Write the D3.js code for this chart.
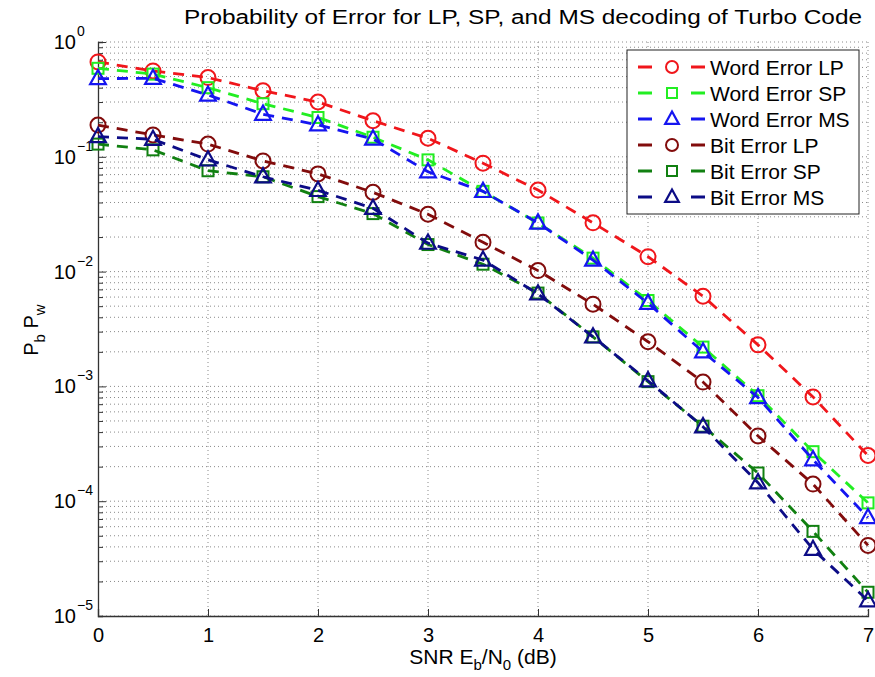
<!DOCTYPE html>
<html><head><meta charset="utf-8">
<script src="https://cdn.jsdelivr.net/npm/d3@7"></script>
<style>body{margin:0;background:#fff}svg{display:block}text{font-family:"Liberation Sans",Arial,Helvetica,sans-serif;fill:#000}</style>
</head><body><svg id="c" width="875" height="677"></svg>
<script>
const snr = [0,0.5,1,1.5,2,2.5,3,3.5,4,4.5,5,5.5,6,6.5,7];
const wordLP = [0.67,0.56,0.49,0.376,0.30,0.206,0.145,0.088,0.0513,0.0266,0.0135,0.0061,0.0023,0.00081,0.00025];
const wordSP = [0.59,0.525,0.40,0.29,0.22,0.148,0.094,0.050,0.0265,0.0131,0.0056,0.0022,0.00083,0.00027,0.0000967];
const wordMS = [0.48,0.483,0.345,0.235,0.19,0.143,0.074,0.050,0.0265,0.0126,0.0053,0.0020,0.00080,0.00023,0.000072];
const bitLP = [0.189,0.155,0.129,0.092,0.071,0.049,0.0316,0.018,0.0102,0.0052,0.00245,0.00109,0.00037,0.000141,0.0000412];
const bitSP = [0.129,0.115,0.0756,0.067,0.045,0.032,0.0172,0.0116,0.0065,0.0027,0.0011,0.00045,0.000176,0.0000546,0.0000161];
const bitMS = [0.15,0.142,0.094,0.067,0.051,0.0356,0.0177,0.0126,0.0064,0.0027,0.00112,0.000446,0.000145,0.0000381,0.0000136];
const seriesNames = ["Word Error LP","Word Error SP","Word Error MS","Bit Error LP","Bit Error SP","Bit Error MS"];
const xTicks = [0,1,2,3,4,5,6,7];
const yExponents = [0,-1,-2,-3,-4,-5];

const series = [
  {name:seriesNames[0], v:wordLP, color:"#f0161b", m:"circle"},
  {name:seriesNames[1], v:wordSP, color:"#22ee22", m:"square"},
  {name:seriesNames[2], v:wordMS, color:"#1515f0", m:"triangle"},
  {name:seriesNames[3], v:bitLP, color:"#820c0c", m:"circle"},
  {name:seriesNames[4], v:bitSP, color:"#118011", m:"square"},
  {name:seriesNames[5], v:bitMS, color:"#0c0c86", m:"triangle"}
];

const L=98, R=868, T=42, B=616;
const svg = d3.select("#c");
const x = d3.scaleLinear().domain([0,7]).range([L,R]);
const y = d3.scaleLog().domain([1e-5,1]).range([B,T]);

// grid
const g = svg.append("g");
const minor = [];
for (let e=-5; e<0; e++) for (let k=1; k<10; k++) minor.push(k*Math.pow(10,e));
minor.push(1);
g.selectAll("line.h").data(minor).enter().append("line")
  .attr("x1",L).attr("x2",R).attr("y1",d=>y(d)).attr("y2",d=>y(d))
  .attr("stroke","#8a8a8a").attr("stroke-width",1).attr("stroke-dasharray","1,3");
g.selectAll("line.v").data(xTicks.slice(1)).enter().append("line")
  .attr("y1",T).attr("y2",B).attr("x1",d=>x(d)).attr("x2",d=>x(d))
  .attr("stroke","#8a8a8a").attr("stroke-width",1).attr("stroke-dasharray","1,3");

// axes
const ax = svg.append("g").attr("transform",`translate(0,${B})`)
  .call(d3.axisBottom(x).tickValues(xTicks).tickSize(-7).tickPadding(12).tickFormat(d3.format("d")));
ax.select(".domain").attr("stroke","#333").attr("stroke-width",1.3);
ax.selectAll(".tick line").attr("stroke","#333");
ax.selectAll("text").style("font-size","20px").attr("dy","0.71em");

const ay = svg.append("g").attr("transform",`translate(${L},0)`)
  .call(d3.axisLeft(y).tickValues(minor).tickSize(-5).tickFormat(""));
ay.select(".domain").attr("stroke","#333").attr("stroke-width",1.3);
ay.selectAll(".tick line").attr("stroke","#333").attr("x2",d=>{const l=Math.log10(d);return Math.abs(l-Math.round(l))<1e-9?8:5;});

// y labels with superscripts
const yl = svg.append("g");
yExponents.forEach(e=>{
  yl.append("text").attr("x",76).attr("y",y(Math.pow(10,e))+7).attr("text-anchor","end").style("font-size","20px").text("10");
  yl.append("text").attr("x",77).attr("y",y(Math.pow(10,e))-6).style("font-size","14px").text(e===0?"0":"\u2212"+(-e));
});

// lines
const line = d3.line().x((d,i)=>x(snr[i])).y(d=>y(d));
const plot = svg.append("g");
function marker(sel, type, color, size){
  if(type==="circle") sel.append("circle").attr("r",size).attr("fill","none").attr("stroke",color).attr("stroke-width",2);
  else if(type==="square") sel.append("rect").attr("x",-size).attr("y",-size).attr("width",2*size).attr("height",2*size).attr("fill","none").attr("stroke",color).attr("stroke-width",2);
  else sel.append("path").attr("d",`M0,${-size*1.15}L${size*1.05},${size*0.75}L${-size*1.05},${size*0.75}Z`).attr("fill","none").attr("stroke",color).attr("stroke-width",2.2);
}
series.forEach(s=>{
  plot.append("path").attr("d",line(s.v)).attr("fill","none").attr("stroke",s.color).attr("stroke-width",2.8).attr("stroke-dasharray","11,8");
  s.v.forEach((v,i)=>{
    const m = plot.append("g").attr("transform",`translate(${x(snr[i])},${y(v)})`);
    marker(m, s.m, s.color, s.m==="circle"?7.5:(s.m==="square"?5.5:7.5));
  });
});

// legend
const lg = svg.append("g");
lg.append("rect").attr("x",627).attr("y",50).attr("width",232).attr("height",164).attr("fill","#fff").attr("stroke","#222").attr("stroke-width",1);
series.forEach((s,i)=>{
  const yy = 67 + i*26;
  lg.append("line").attr("x1",638).attr("x2",705).attr("y1",yy).attr("y2",yy).attr("stroke",s.color).attr("stroke-width",2.8).attr("stroke-dasharray","14,39");
  const m = lg.append("g").attr("transform",`translate(672,${yy})`);
  marker(m, s.m, s.color, s.m==="circle"?6:(s.m==="square"?5:6.5));
  lg.append("text").attr("x",710).attr("y",yy+7.5).style("font-size","21px").text(s.name);
});

// title
svg.append("text").attr("x",184).attr("y",24).attr("textLength",678).attr("lengthAdjust","spacingAndGlyphs").style("font-size","20px").text("Probability of Error for LP, SP, and MS decoding of Turbo Code");

// x label
const xl = svg.append("text").attr("x",483).attr("y",664).attr("text-anchor","middle").style("font-size","21px");
xl.append("tspan").text("SNR E");
xl.append("tspan").attr("dy",6).style("font-size","15px").text("b");
xl.append("tspan").attr("dy",-6).text("/N");
xl.append("tspan").attr("dy",6).style("font-size","15px").text("0");
xl.append("tspan").attr("dy",-6).text(" (dB)");

// y label
const ylab = svg.append("text").attr("transform","translate(38,330) rotate(-90)").attr("text-anchor","middle").style("font-size","20px");
ylab.append("tspan").text("P");
ylab.append("tspan").attr("dy",7).style("font-size","15px").text("b");
ylab.append("tspan").attr("dy",-7).text("  P");
ylab.append("tspan").attr("dy",7).style("font-size","15px").text("w");
</script></body></html>
